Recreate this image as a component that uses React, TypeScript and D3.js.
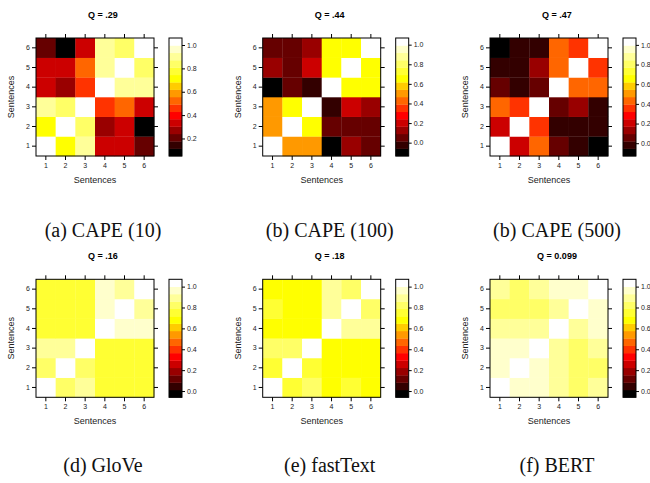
import React, { Component } from 'react'
import * as d3 from 'd3'

const sentences = [1, 2, 3, 4, 5, 6]

const titles = ['Q = .29', 'Q = .44', 'Q = .47', 'Q = .16', 'Q = .18', 'Q = 0.099']
const captions = ['(a) CAPE (10)', '(b) CAPE (100)', '(b) CAPE (500)', '(d) GloVe', '(e) fastText', '(f) BERT']

// colour key limits of each panel (lattice extends them a bit past the data)
const keyRanges = [
  [0.05, 1.06],
  [-0.136, 1.068],
  [-0.13, 1.07],
  [-0.06, 1.07],
  [-0.06, 1.07],
  [-0.06, 1.07]
]
const keyTicks = [
  [0.2, 0.4, 0.6, 0.8, 1.0],
  [0.0, 0.2, 0.4, 0.6, 0.8, 1.0],
  [0.0, 0.2, 0.4, 0.6, 0.8, 1.0],
  [0.0, 0.2, 0.4, 0.6, 0.8, 1.0],
  [0.0, 0.2, 0.4, 0.6, 0.8, 1.0],
  [0.0, 0.2, 0.4, 0.6, 0.8, 1.0]
]

// rows: sentence 1..6 on the y axis, columns: sentence 1..6 on the x axis
const cape10 = [
  [1.0, 0.72, 0.9, 0.33, 0.33, 0.21],
  [0.72, 1.0, 0.84, 0.27, 0.33, 0.08],
  [0.9, 0.84, 1.0, 0.46, 0.52, 0.33],
  [0.33, 0.27, 0.46, 1.0, 0.9, 0.9],
  [0.33, 0.33, 0.52, 0.9, 1.0, 0.84],
  [0.21, 0.08, 0.33, 0.9, 0.84, 1.0]
]
const cape100 = [
  [1.0, 0.5, 0.5, -0.1, 0.13, 0.05],
  [0.5, 1.0, 0.65, 0.05, 0.05, 0.05],
  [0.5, 0.65, 1.0, -0.02, 0.2, 0.13],
  [-0.1, 0.05, -0.02, 1.0, 0.65, 0.65],
  [0.13, 0.05, 0.2, 0.65, 1.0, 0.65],
  [0.05, 0.05, 0.13, 0.65, 0.65, 1.0]
]
const cape500 = [
  [1.0, 0.21, 0.43, 0.06, -0.02, -0.09],
  [0.21, 1.0, 0.36, -0.02, -0.02, -0.02],
  [0.43, 0.36, 1.0, 0.06, 0.13, -0.02],
  [0.06, -0.02, 0.06, 1.0, 0.45, 0.45],
  [-0.02, -0.02, 0.13, 0.45, 1.0, 0.36],
  [-0.09, -0.02, -0.02, 0.45, 0.36, 1.0]
]
const glove = [
  [1.0, 0.82, 0.89, 0.75, 0.75, 0.75],
  [0.82, 1.0, 0.82, 0.75, 0.75, 0.75],
  [0.89, 0.89, 1.0, 0.75, 0.75, 0.75],
  [0.75, 0.75, 0.75, 1.0, 0.96, 0.96],
  [0.75, 0.75, 0.75, 0.96, 1.0, 0.89],
  [0.75, 0.75, 0.75, 0.96, 0.89, 1.0]
]
const fasttext = [
  [1.0, 0.75, 0.82, 0.68, 0.75, 0.68],
  [0.75, 1.0, 0.75, 0.68, 0.68, 0.68],
  [0.82, 0.82, 1.0, 0.68, 0.68, 0.68],
  [0.68, 0.68, 0.68, 1.0, 0.89, 0.89],
  [0.75, 0.68, 0.68, 0.89, 1.0, 0.82],
  [0.68, 0.68, 0.68, 0.89, 0.82, 1.0]
]
const bert = [
  [1.0, 0.96, 0.96, 0.89, 0.82, 0.89],
  [0.96, 1.0, 0.96, 0.89, 0.82, 0.82],
  [0.96, 0.96, 1.0, 0.89, 0.82, 0.89],
  [0.89, 0.89, 0.89, 1.0, 0.89, 0.96],
  [0.82, 0.82, 0.82, 0.89, 1.0, 0.96],
  [0.89, 0.82, 0.89, 0.96, 0.96, 1.0]
]

const matrices = [cape10, cape100, cape500, glove, fasttext, bert]

class App extends Component {
  constructor(props) {
    super(props)
    this.svgContainer = null
    this.setSvgContainer = this.setSvgContainer.bind(this)
    this.drawChart = this.drawChart.bind(this)
  }

  componentDidMount() {
    this.drawChart()
  }

  setSvgContainer(e) {
    this.svgContainer = e
  }

  drawChart() {
    const totalW = 650
    const totalH = 483
    const size = 118
    const colLeft = [36, 262.7, 490]
    const rowTop = [38, 279.3]
    const captionY = [237, 472]
    const keyGap = 133
    const keyW = 13
    const sans = 'Liberation Sans, Arial, sans-serif'

    // 16 levels black -> red -> yellow -> white
    const palette = d3.quantize(d3.piecewise(d3.interpolateRgb, ['#000000', '#ff0000', '#ffff00', '#ffffff']), 16)

    d3.select(this.svgContainer).selectAll('*').remove()
    const svg = d3
      .select(this.svgContainer)
      .append('svg')
      .attr('width', totalW)
      .attr('height', totalH)
      .style('position', 'absolute')
      .style('left', 0)
      .style('top', 0)
      .style('background', '#fff')

    matrices.forEach((m, k) => {
      const row = Math.floor(k / 3)
      const x0 = colLeft[k % 3]
      const y0 = rowTop[row]
      const [lo, hi] = keyRanges[k]

      const x = d3.scaleBand().domain(sentences).range([x0, x0 + size])
      const y = d3.scaleBand().domain(sentences).range([y0 + size, y0])
      const color = d3.scaleQuantize().domain([lo, hi]).range(palette)

      const g = svg.append('g')

      // cells
      const cells = []
      m.forEach((r, i) => r.forEach((v, j) => cells.push({ r: sentences[i], c: sentences[j], v })))
      g.selectAll('rect.cell')
        .data(cells)
        .enter()
        .append('rect')
        .attr('class', 'cell')
        .attr('x', d => x(d.c))
        .attr('y', d => y(d.r))
        .attr('width', x.bandwidth() + 0.3)
        .attr('height', y.bandwidth() + 0.3)
        .attr('fill', d => color(d.v))

      // axes (ticks on all four sides, labels left and bottom)
      const axisStyle = a => {
        a.select('.domain').remove()
        a.selectAll('line').attr('stroke', '#000')
        a.selectAll('text').attr('font-size', 7).attr('font-family', sans).attr('fill', '#222')
      }
      g.append('g')
        .attr('transform', `translate(${x0},0)`)
        .call(d3.axisLeft(y).tickSize(4).tickPadding(2))
        .call(axisStyle)
      g.append('g')
        .attr('transform', `translate(0,${y0 + size})`)
        .call(d3.axisBottom(x).tickSize(4).tickPadding(3))
        .call(axisStyle)
      g.append('g')
        .attr('transform', `translate(0,${y0})`)
        .call(d3.axisTop(x).tickSize(4).tickFormat(''))
        .call(axisStyle)
      g.append('g')
        .attr('transform', `translate(${x0 + size},0)`)
        .call(d3.axisRight(y).tickSize(4).tickFormat(''))
        .call(axisStyle)

      g.append('rect')
        .attr('x', x0)
        .attr('y', y0)
        .attr('width', size)
        .attr('height', size)
        .attr('fill', 'none')
        .attr('stroke', '#000')
        .attr('stroke-width', 1)

      // titles and axis labels
      g.append('text')
        .attr('x', x0 + size / 2 + 8)
        .attr('y', y0 - 20)
        .attr('text-anchor', 'middle')
        .attr('font-family', sans)
        .attr('font-weight', 'bold')
        .attr('font-size', 9)
        .text(titles[k])

      g.append('text')
        .attr('x', x0 + size / 2)
        .attr('y', y0 + size + 27)
        .attr('text-anchor', 'middle')
        .attr('font-family', sans)
        .attr('font-size', 9)
        .attr('fill', '#222')
        .text('Sentences')

      g.append('text')
        .attr('transform', `translate(${x0 - 22},${y0 + size / 2}) rotate(-90)`)
        .attr('text-anchor', 'middle')
        .attr('font-family', sans)
        .attr('font-size', 9)
        .attr('fill', '#222')
        .text('Sentences')

      // colour key
      const kx = x0 + keyGap
      const ky = d3.scaleLinear().domain([lo, hi]).range([y0 + size, y0])
      const step = (hi - lo) / palette.length
      g.selectAll('rect.key')
        .data(palette)
        .enter()
        .append('rect')
        .attr('class', 'key')
        .attr('x', kx)
        .attr('y', (d, i) => ky(lo + step * (i + 1)))
        .attr('width', keyW)
        .attr('height', (d, i) => ky(lo + step * i) - ky(lo + step * (i + 1)) + 0.3)
        .attr('fill', d => d)

      g.append('rect')
        .attr('x', kx)
        .attr('y', y0)
        .attr('width', keyW)
        .attr('height', size)
        .attr('fill', 'none')
        .attr('stroke', '#000')

      g.append('g')
        .attr('transform', `translate(${kx + keyW},0)`)
        .call(d3.axisRight(ky).tickValues(keyTicks[k]).tickFormat(d3.format('.1f')).tickSize(3).tickPadding(2))
        .call(axisStyle)

      // sub-figure caption
      g.append('text')
        .attr('x', x0 + size / 2 + 8)
        .attr('y', captionY[row])
        .attr('text-anchor', 'middle')
        .attr('font-family', 'Liberation Serif, Times New Roman, serif')
        .attr('font-size', 20)
        .attr('fill', '#111')
        .text(captions[k])
    })
  }

  render() {
    return <div ref={this.setSvgContainer} />
  }
}

export default App
